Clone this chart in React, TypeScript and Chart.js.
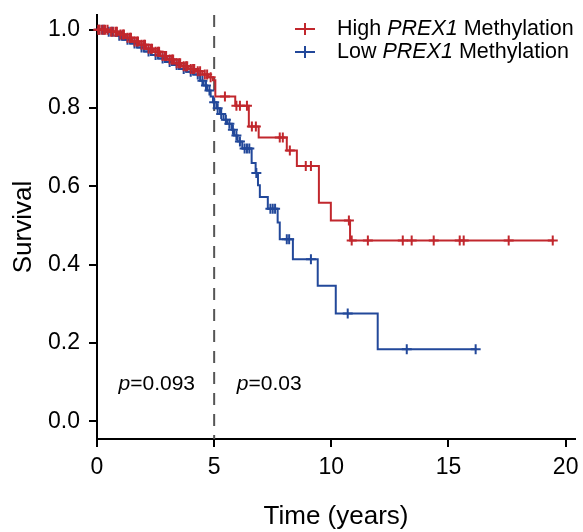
import React, { useEffect, useLayoutEffect, useRef } from "react";
import { Chart, registerables } from "chart.js";

Chart.register(...registerables);

const FONT = "'Liberation Sans', Arial, Helvetica, sans-serif";

const xTicks = [0, 5, 10, 15, 20];
const yTicks = [0, 0.2, 0.4, 0.6, 0.8, 1.0];

// High PREX1 methylation: step times and survival after each step
const highTimes = [0, 0.5, 0.9, 1.2, 1.5, 1.8, 2.1, 2.4, 2.7, 3.0, 3.3, 3.6, 3.9, 4.2, 4.5, 4.75, 4.95, 5.05, 5.9, 6.48, 6.9, 8.1, 8.53, 9.47, 9.98, 10.8, 19.5];
const highSurv = [1.0, 0.995, 0.988, 0.98, 0.97, 0.962, 0.952, 0.944, 0.933, 0.924, 0.915, 0.907, 0.9, 0.894, 0.886, 0.879, 0.871, 0.83, 0.806, 0.753, 0.725, 0.692, 0.652, 0.558, 0.513, 0.462, 0.462];
const highCensor = [0.05, 0.1, 0.2, 0.3, 0.35, 0.45, 0.6, 0.7, 0.8, 0.85, 1.0, 1.1, 1.15, 1.3, 1.4, 1.45, 1.6, 1.7, 1.75, 1.9, 2.0, 2.05, 2.2, 2.3, 2.35, 2.5, 2.6, 2.65, 2.8, 2.9, 2.95, 3.1, 3.2, 3.25, 3.4, 3.5, 3.55, 3.7, 3.8, 3.85, 4.0, 4.1, 4.15, 4.3, 4.4, 4.6, 4.7, 4.85, 5.46, 5.95, 6.1, 6.4, 6.61, 6.78, 7.8, 7.93, 8.23, 8.91, 9.13, 10.75, 10.87, 11.56, 13.05, 13.43, 14.37, 15.48, 15.65, 17.57, 19.45];

// Low PREX1 methylation
const lowTimes = [0, 0.4, 0.8, 1.1, 1.4, 1.7, 2.0, 2.3, 2.6, 2.9, 3.2, 3.5, 3.8, 4.1, 4.4, 4.55, 4.7, 4.85, 4.95, 5.1, 5.25, 5.4, 5.55, 5.75, 5.85, 6.0, 6.2, 6.6, 6.77, 6.87, 6.95, 7.29, 7.71, 7.8, 8.36, 9.42, 10.19, 11.98, 16.2];
const lowSurv = [1.0, 0.995, 0.985, 0.975, 0.965, 0.955, 0.945, 0.936, 0.927, 0.918, 0.91, 0.9, 0.893, 0.886, 0.87, 0.858, 0.845, 0.83, 0.815, 0.8, 0.785, 0.77, 0.76, 0.745, 0.73, 0.715, 0.697, 0.66, 0.634, 0.603, 0.573, 0.543, 0.508, 0.465, 0.414, 0.346, 0.275, 0.184, 0.184];
const lowCensor = [0.1, 0.25, 0.5, 0.65, 0.95, 1.05, 1.3, 1.6, 1.9, 2.2, 2.5, 2.8, 3.1, 3.4, 3.7, 4.0, 4.3, 4.5, 4.65, 4.8, 5.0, 5.15, 5.3, 5.5, 5.65, 5.8, 5.95, 6.1, 6.3, 6.4, 6.5, 6.8, 7.4, 7.5, 7.6, 8.1, 8.2, 9.13, 10.7, 13.22, 16.16];

const groupNames = ["High", "Low"];
const geneName = "PREX1";
const suffixName = "Methylation";
const cutoffYear = 5;
const pLabels = ["0.093", "0.03"];
const pLabelX = [2.55, 7.35];
const pLabelY = 0.095;

const RED = "#C1272D";
const BLUE = "#22489A";

function stepPoints(times: number[], surv: number[]) {
  return times.map((t, i) => ({ x: t, y: surv[i] }));
}
function survAt(times: number[], surv: number[], t: number) {
  let s = surv[0];
  for (let i = 0; i < times.length; i++) if (times[i] <= t) s = surv[i];
  return s;
}
function censorPoints(times: number[], surv: number[], cens: number[]) {
  return cens.map((t) => ({ x: t, y: survAt(times, surv, t) }));
}

function drawRich(ctx: CanvasRenderingContext2D, parts: { text: string; italic: boolean }[], x: number, y: number, size: number) {
  let cx = x;
  for (const p of parts) {
    ctx.font = `${p.italic ? "italic " : ""}${size}px ${FONT}`;
    ctx.fillText(p.text, cx, y);
    cx += ctx.measureText(p.text).width;
  }
  return cx - x;
}

const annotPlugin = {
  id: "annot",
  beforeDatasetsDraw(chart: any) {
    const { ctx, chartArea, scales } = chart;
    const px = scales.x.getPixelForValue(cutoffYear);
    ctx.save();
    ctx.strokeStyle = "#555555";
    ctx.lineWidth = 2;
    ctx.setLineDash([12, 9]);
    ctx.beginPath();
    ctx.moveTo(px, chartArea.top);
    ctx.lineTo(px, chartArea.bottom);
    ctx.stroke();
    ctx.restore();
  },
  afterDraw(chart: any) {
    const { ctx, scales } = chart;
    ctx.save();
    ctx.fillStyle = "#000";
    ctx.textBaseline = "middle";
    ctx.textAlign = "left";
    for (let i = 0; i < pLabels.length; i++) {
      const parts = [
        { text: "p", italic: true },
        { text: "=" + pLabels[i], italic: false },
      ];
      let w = 0;
      for (const p of parts) {
        ctx.font = `${p.italic ? "italic " : ""}21px ${FONT}`;
        w += ctx.measureText(p.text).width;
      }
      const cx = scales.x.getPixelForValue(pLabelX[i]);
      const cy = scales.y.getPixelForValue(pLabelY);
      drawRich(ctx, parts, cx - w / 2, cy, 21);
    }
    const colors = [RED, BLUE];
    const lx = 297;
    const ly0 = 21;
    const dy = 23;
    for (let i = 0; i < groupNames.length; i++) {
      const y = ly0 + i * dy;
      ctx.strokeStyle = colors[i];
      ctx.lineWidth = 2;
      ctx.beginPath();
      ctx.moveTo(lx - 10, y);
      ctx.lineTo(lx + 10, y);
      ctx.moveTo(lx, y - 6);
      ctx.lineTo(lx, y + 6);
      ctx.stroke();
      ctx.fillStyle = "#000";
      drawRich(
        ctx,
        [
          { text: groupNames[i] + " ", italic: false },
          { text: geneName, italic: true },
          { text: " " + suffixName, italic: false },
        ],
        329,
        y,
        21.5
      );
    }
    ctx.restore();
  },
};

export default function App() {
  const ref = useRef<HTMLCanvasElement | null>(null);
  useLayoutEffect(() => {
    document.body.style.margin = "0";
  }, []);
  useEffect(() => {
    if (!ref.current) return;
    const lineCommon = {
      type: "line" as const,
      stepped: true,
      pointRadius: 0,
      borderWidth: 2,
      fill: false,
      clip: false as any,
    };
    const censCommon = {
      type: "scatter" as const,
      showLine: false,
      pointStyle: "cross",
      pointRadius: 5,
      pointBorderWidth: 2,
      clip: false as any,
    };
    const chart = new Chart(ref.current, {
      type: "line",
      data: {
        datasets: [
          { ...lineCommon, label: "High", data: stepPoints(highTimes, highSurv), borderColor: RED },
          { ...censCommon, label: "High censored", data: censorPoints(highTimes, highSurv, highCensor), borderColor: RED, backgroundColor: RED },
          { ...lineCommon, label: "Low", data: stepPoints(lowTimes, lowSurv), borderColor: BLUE },
          { ...censCommon, label: "Low censored", data: censorPoints(lowTimes, lowSurv, lowCensor), borderColor: BLUE, backgroundColor: BLUE },
        ] as any,
      },
      options: {
        responsive: false,
        animation: false,
        layout: { padding: { top: 2, right: 8, left: 0, bottom: 0 } },
        plugins: { legend: { display: false }, tooltip: { enabled: false } },
        scales: {
          x: {
            type: "linear",
            min: 0,
            max: 20.4,
            afterBuildTicks: (s: any) => {
              s.ticks = xTicks.map((v) => ({ value: v }));
            },
            afterFit: (s: any) => {
              s.height = 93;
              s.paddingLeft = 0;
              s.paddingRight = 0;
            },
            border: { display: true, color: "#000", width: 2 },
            grid: { display: true, drawOnChartArea: false, drawTicks: true, tickLength: 8, color: "#000", lineWidth: 2 },
            ticks: { font: { family: FONT, size: 23 }, color: "#000", padding: 7, maxRotation: 0, autoSkip: false },
            title: { display: true, text: "Time (years)", font: { family: FONT, size: 26 }, color: "#000", padding: { top: 0, bottom: 0 } },
          },
          y: {
            type: "linear",
            min: -0.0455,
            max: 1.038,
            afterBuildTicks: (s: any) => {
              s.ticks = yTicks.map((v) => ({ value: v }));
            },
            afterFit: (s: any) => {
              s.width = 89;
              s.paddingTop = 0;
              s.paddingBottom = 0;
            },
            border: { display: true, color: "#000", width: 2 },
            grid: { display: true, drawOnChartArea: false, drawTicks: true, tickLength: 8, color: "#000", lineWidth: 2 },
            ticks: {
              font: { family: FONT, size: 23 },
              color: "#000",
              padding: 9,
              autoSkip: false,
              callback: (v: any) => Number(v).toFixed(1),
            },
            title: { display: true, text: "Survival", font: { family: FONT, size: 26 }, color: "#000", padding: { top: 0, bottom: 0 } },
          },
        },
      },
      plugins: [annotPlugin],
    } as any);
    return () => chart.destroy();
  }, []);
  return (
    <div style={{ width: 575, height: 524, paddingLeft: 8, paddingTop: 8, background: "#fff" }}>
      <canvas ref={ref} width={575} height={524} style={{ display: "block" }} />
    </div>
  );
}
